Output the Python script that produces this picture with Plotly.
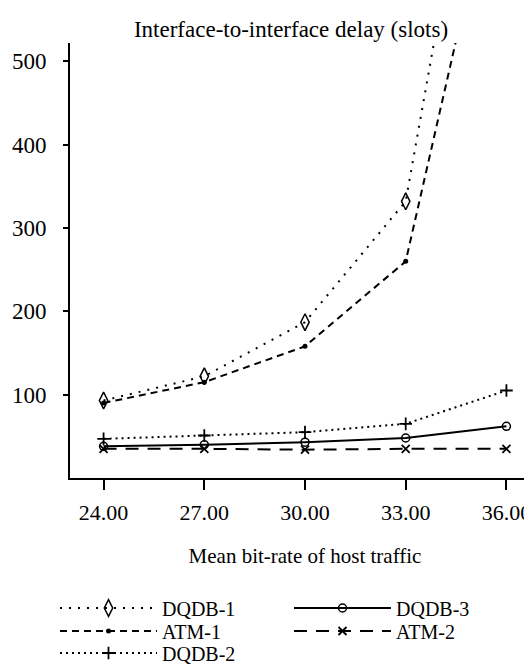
import plotly.graph_objects as go

x_rate = [24, 27, 30, 33, 36]
x_tick_labels = ["24.00", "27.00", "30.00", "33.00", "36.00"]
y_ticks = [100, 200, 300, 400, 500]

dqdb1 = [93, 122, 187, 332, 1010]
atm1 = [90, 115, 158, 260, 790]
dqdb2 = [47, 51, 55, 65, 105]
dqdb3 = [38, 40, 43, 48, 62]
atm2 = [35, 35, 34, 35, 35]

FONT = "Liberation Serif, Times New Roman, serif"
BLACK = "black"

fig = go.Figure()

fig.add_trace(go.Scatter(x=x_rate, y=dqdb1, name="DQDB-1", mode="lines+markers",
                         legend="legend",
                         line=dict(color=BLACK, width=2, dash="2px,7px"),
                         marker=dict(symbol="diamond-tall-open", size=12, color=BLACK,
                                     line=dict(color=BLACK, width=1.5))))
fig.add_trace(go.Scatter(x=x_rate, y=atm1, name="ATM-1", mode="lines+markers",
                         legend="legend2",
                         line=dict(color=BLACK, width=2, dash="7px,5px"),
                         marker=dict(symbol="circle", size=5, color=BLACK)))
fig.add_trace(go.Scatter(x=x_rate, y=dqdb2, name="DQDB-2", mode="lines+markers",
                         legend="legend3",
                         line=dict(color=BLACK, width=2, dash="2px,4px"),
                         marker=dict(symbol="cross-thin-open", size=9, color=BLACK,
                                     line=dict(color=BLACK, width=1.8))))
fig.add_trace(go.Scatter(x=x_rate, y=dqdb3, name="DQDB-3", mode="lines+markers",
                         legend="legend4",
                         line=dict(color=BLACK, width=2),
                         marker=dict(symbol="circle-open", size=8, color=BLACK,
                                     line=dict(color=BLACK, width=1.5))))
fig.add_trace(go.Scatter(x=x_rate, y=atm2, name="ATM-2", mode="lines+markers",
                         legend="legend5",
                         line=dict(color=BLACK, width=2, dash="13px,9px"),
                         marker=dict(symbol="x-thin-open", size=8, color=BLACK,
                                     line=dict(color=BLACK, width=1.8))))

legend_common = dict(orientation="v", xref="container", yref="container",
                     xanchor="left", yanchor="middle", itemwidth=97,
                     font=dict(family=FONT, size=20, color=BLACK),
                     bgcolor="rgba(0,0,0,0)")

col1, col2 = 47 / 532, 281 / 532
row1, row2, row3 = 1 - 600 / 665, 1 - 623 / 665, 1 - 645 / 665

fig.update_layout(
    width=532, height=665,
    margin=dict(l=62, r=0, t=35, b=195, autoexpand=False),
    paper_bgcolor="white", plot_bgcolor="white",
    font=dict(family=FONT, size=22, color=BLACK),
    title=dict(text="Interface-to-interface delay (slots)",
               x=0.532, xref="container", xanchor="center",
               y=1 - 21 / 665, yref="container", yanchor="middle",
               font=dict(family=FONT, size=23, color=BLACK)),
    showlegend=True,
    legend=dict(x=col1, y=row1, **legend_common),
    legend2=dict(x=col1, y=row2, **legend_common),
    legend3=dict(x=col1, y=row3, **legend_common),
    legend4=dict(x=col2, y=row1, **legend_common),
    legend5=dict(x=col2, y=row2, **legend_common),
)

fig.update_xaxes(range=[23.0, 37.0], tickvals=x_rate, ticktext=x_tick_labels,
                 showline=True, linecolor=BLACK, linewidth=2,
                 ticks="outside", ticklen=10, tickwidth=1.5, tickcolor=BLACK,
                 showgrid=False, zeroline=False, ticklabelstandoff=4,
                 tickfont=dict(family=FONT, size=22, color=BLACK),
                 title=dict(text="Mean bit-rate of host traffic", standoff=24,
                            font=dict(family=FONT, size=21, color=BLACK)))
fig.update_yaxes(range=[0, 522], tickvals=y_ticks,
                 showline=True, linecolor=BLACK, linewidth=2,
                 ticks="outside", ticklen=5, tickwidth=1.5, tickcolor=BLACK,
                 tickfont=dict(family=FONT, size=23, color=BLACK),
                 showgrid=False, zeroline=False, ticklabelstandoff=12)

fig.write_html("out.html")
